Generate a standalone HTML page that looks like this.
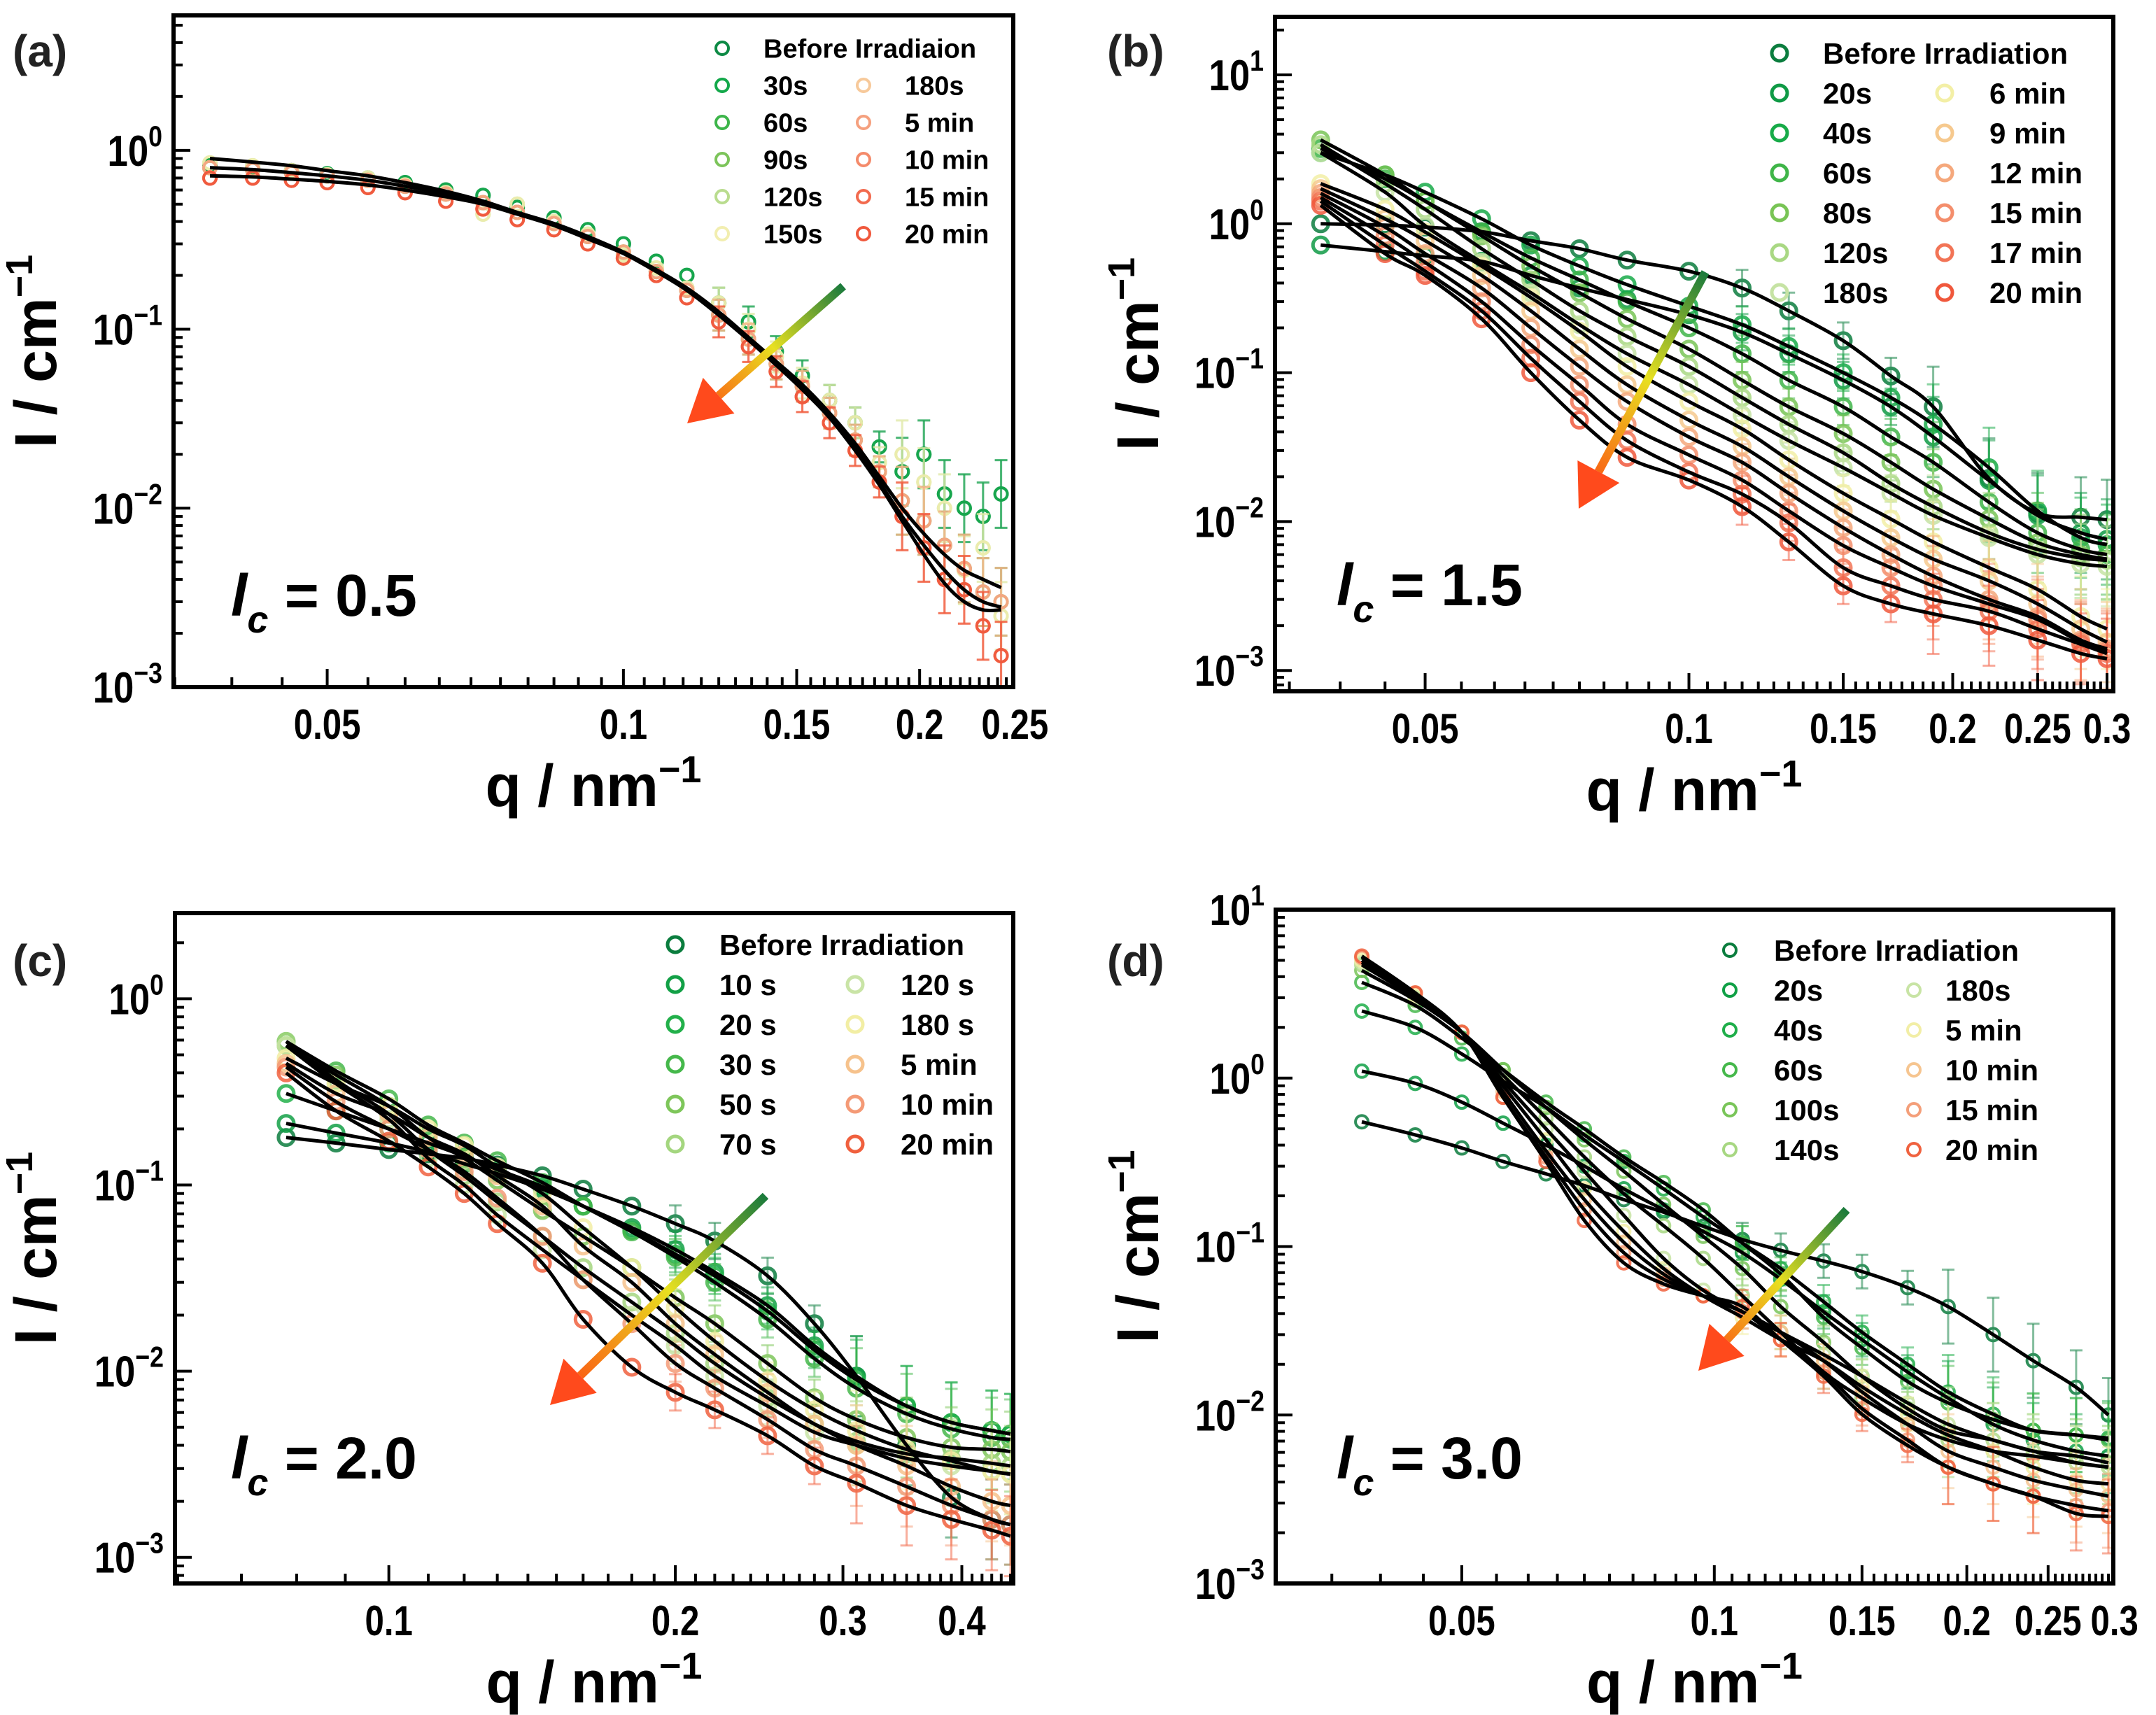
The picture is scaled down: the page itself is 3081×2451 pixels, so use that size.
<!DOCTYPE html>
<html><head><meta charset="utf-8"><style>
html,body{margin:0;padding:0;background:#fff;}
svg{display:block;font-family:"Liberation Sans",Arial,sans-serif;font-weight:bold;}
</style></head><body>
<svg id="fig" xmlns="http://www.w3.org/2000/svg" width="3081" height="2451" viewBox="0 0 3081 2451">
<defs>
<linearGradient id="arrA" gradientUnits="userSpaceOnUse" x1="1205" y1="409" x2="982" y2="605"><stop offset="0" stop-color="#1a7a3c"/><stop offset="0.45" stop-color="#e8e020"/><stop offset="1" stop-color="#ff3a10"/></linearGradient>
<linearGradient id="arrB" gradientUnits="userSpaceOnUse" x1="2437" y1="389" x2="2256" y2="727"><stop offset="0" stop-color="#1a7a3c"/><stop offset="0.45" stop-color="#e8e020"/><stop offset="1" stop-color="#ff3a10"/></linearGradient>
<linearGradient id="arrC" gradientUnits="userSpaceOnUse" x1="1094" y1="1709" x2="786" y2="2008"><stop offset="0" stop-color="#1a7a3c"/><stop offset="0.45" stop-color="#e8e020"/><stop offset="1" stop-color="#ff3a10"/></linearGradient>
<linearGradient id="arrD" gradientUnits="userSpaceOnUse" x1="2639" y1="1729" x2="2427" y2="1959"><stop offset="0" stop-color="#1a7a3c"/><stop offset="0.45" stop-color="#e8e020"/><stop offset="1" stop-color="#ff3a10"/></linearGradient>
</defs>
</svg>
<script>
// ---------- Panel (a) data ----------
const qA = [0.038,0.042,0.046,0.05,0.055,0.06,0.066,0.072,0.078,0.085,0.092,0.1,0.108,0.116,0.125,0.134,0.143,0.152,0.162,0.172,0.182,0.192,0.202,0.212,0.222,0.232,0.242];
const dataA_green = [0.82,0.8,0.77,0.74,0.7,0.66,0.6,0.56,0.48,0.42,0.36,0.3,0.24,0.2,0.14,0.11,0.075,0.055,0.04,0.03,0.022,0.016,0.02,0.012,0.01,0.009,0.012];
const dataA_base = [0.8,0.78,0.75,0.72,0.68,0.63,0.57,0.51,0.45,0.39,0.33,0.27,0.21,0.165,0.12,0.088,0.064,0.048,0.034,0.024,0.016,0.011,0.0085,0.0062,0.0046,0.0034,0.003];
const dataA_light = [0.85,0.82,0.77,0.73,0.7,0.64,0.58,0.44,0.5,0.4,0.34,0.26,0.22,0.17,0.14,0.1,0.07,0.05,0.04,0.03,0.018,0.02,0.014,0.01,0.0045,0.006,0.0025];
const dataA_red = [0.7,0.7,0.68,0.66,0.62,0.58,0.52,0.47,0.41,0.36,0.3,0.25,0.2,0.15,0.11,0.08,0.058,0.042,0.03,0.021,0.014,0.009,0.006,0.004,0.0035,0.0022,0.0015];
const fitA1 = [0.9,0.86,0.82,0.77,0.72,0.66,0.59,0.52,0.45,0.39,0.33,0.27,0.215,0.17,0.125,0.09,0.066,0.049,0.034,0.023,0.015,0.01,0.0072,0.0055,0.0045,0.004,0.0036];
const fitA2 = [0.72,0.71,0.69,0.67,0.64,0.6,0.55,0.5,0.44,0.38,0.32,0.265,0.21,0.165,0.12,0.087,0.063,0.046,0.032,0.021,0.0135,0.0085,0.0055,0.0038,0.003,0.0027,0.0027];
const fitA3 = [0.8,0.78,0.75,0.72,0.68,0.63,0.57,0.51,0.445,0.385,0.325,0.267,0.212,0.167,0.122,0.088,0.064,0.047,0.033,0.022,0.014,0.009,0.0062,0.0045,0.0035,0.003,0.0028];
const namesA = ["Before Irradiaion","30s","60s","90s","120s","150s","180s","5 min","10 min","15 min","20 min"];
const colorsA = ["#0d8a45","#13a84a","#3db54a","#7cc45a","#b9dc8e","#f2eeb0","#f7c99a","#f5a07e","#f48a6a","#f26a4e","#f0583c"];
const seriesA = [dataA_green,dataA_green,dataA_base,dataA_base,dataA_light,dataA_light,dataA_base,dataA_base,dataA_red,dataA_red,dataA_red];
const fitsA = [fitA1,fitA2,fitA3];

// ---------- Panel (b) data ----------
const qB = [0.038,0.045,0.05,0.058,0.066,0.075,0.085,0.1,0.115,0.13,0.15,0.17,0.19,0.22,0.25,0.28,0.3];
const namesB = ["Before Irradiation","20s","40s","60s","80s","120s","180s","6 min","9 min","12 min","15 min","17 min","20 min"];
const colorsB = ["#0b7d3e","#0f9a45","#17ab48","#3fb548","#78c455","#a9d883","#c6e3a4","#f3efa6","#f6c98e","#f5a87c","#f48e6c","#f27456","#f0583c"];
const b0 = [1.0,0.98,0.95,0.885,0.77,0.68,0.57,0.48,0.37,0.26,0.164,0.095,0.059,0.0195,0.0114,0.0107,0.0103];
const b1 = [0.72,0.65,0.61,0.56,0.45,0.37,0.31,0.245,0.187,0.134,0.089,0.059,0.037,0.0189,0.011,0.0084,0.0076];
const b2 = [3.0,2.13,1.63,1.08,0.72,0.52,0.39,0.28,0.21,0.15,0.10,0.068,0.045,0.023,0.0118,0.0078,0.007];
const b3 = [3.2,2.0,1.42,0.88,0.59,0.42,0.30,0.2,0.134,0.089,0.059,0.037,0.025,0.0135,0.0084,0.0065,0.006];
const b4 = [3.66,2.13,1.42,0.83,0.52,0.344,0.23,0.144,0.089,0.059,0.039,0.025,0.0165,0.0104,0.0072,0.006,0.0056];
const b5 = [3.4,1.86,1.25,0.68,0.42,0.26,0.175,0.11,0.068,0.045,0.029,0.018,0.0126,0.0084,0.0065,0.0057,0.0055];
const b6 = [3.0,1.63,0.97,0.55,0.344,0.21,0.134,0.083,0.052,0.035,0.023,0.0155,0.011,0.0078,0.006,0.0052,0.005];
const b7 = [1.86,1.25,0.88,0.52,0.32,0.19,0.11,0.064,0.042,0.026,0.0155,0.0104,0.0073,0.0049,0.0035,0.0023,0.0019];
const b8 = [1.72,1.08,0.77,0.45,0.26,0.144,0.083,0.048,0.032,0.02,0.0118,0.0078,0.0056,0.004,0.0028,0.0019,0.00155];
const b9 = [1.6,0.95,0.63,0.37,0.2,0.11,0.064,0.037,0.025,0.0155,0.0091,0.006,0.0043,0.003,0.0023,0.0016,0.0014];
const b10 = [1.5,0.83,0.55,0.3,0.154,0.083,0.045,0.028,0.019,0.0118,0.0069,0.0049,0.0037,0.0028,0.0022,0.00155,0.00135];
const b11 = [1.42,0.72,0.48,0.26,0.125,0.064,0.035,0.0215,0.0153,0.0098,0.0049,0.0037,0.003,0.0025,0.0019,0.0015,0.0013];
const b12 = [1.33,0.63,0.45,0.23,0.1,0.048,0.027,0.019,0.0126,0.0073,0.0037,0.0028,0.0024,0.002,0.0016,0.0013,0.0012];
const seriesB = [b0,b1,b2,b3,b4,b5,b6,b7,b8,b9,b10,b11,b12];

// ---------- Panel (c) data ----------
const qC = [0.078,0.088,0.1,0.11,0.12,0.13,0.145,0.16,0.18,0.2,0.22,0.25,0.28,0.31,0.35,0.39,0.43,0.45];
const namesC = ["Before Irradiation","10 s","20 s","30 s","50 s","70 s","120 s","180 s","5 min","10 min","20 min"];
const colorsC = ["#0b7d3e","#12a046","#22b04a","#45b84b","#7ec65a","#a4d67f","#c9e4a6","#f2eea4","#f6c28c","#f49a76","#f0603e"];
const c0 = [0.18,0.168,0.155,0.147,0.139,0.128,0.112,0.095,0.077,0.062,0.05,0.0325,0.018,0.0094,0.004,0.0021,0.0016,0.0015];
const c1 = [0.214,0.19,0.168,0.15,0.13,0.115,0.095,0.077,0.059,0.045,0.034,0.0225,0.0137,0.0094,0.0065,0.0053,0.0048,0.0046];
const c2 = [0.31,0.25,0.2,0.168,0.143,0.121,0.098,0.077,0.057,0.0425,0.0325,0.021,0.013,0.009,0.0065,0.0053,0.0048,0.0046];
const c3 = [0.59,0.41,0.29,0.21,0.168,0.135,0.103,0.077,0.056,0.041,0.03,0.019,0.0117,0.0081,0.0059,0.0049,0.0044,0.0043];
const c4 = [0.56,0.39,0.265,0.18,0.139,0.106,0.073,0.053,0.036,0.0248,0.018,0.011,0.0072,0.0055,0.0044,0.0039,0.0038,0.0037];
const c5 = [0.59,0.366,0.24,0.155,0.112,0.081,0.053,0.036,0.0235,0.016,0.011,0.0072,0.0052,0.0042,0.0036,0.0034,0.0032,0.0031];
const c6 = [0.56,0.35,0.225,0.139,0.1,0.069,0.045,0.031,0.02,0.0137,0.0094,0.0065,0.0047,0.004,0.0034,0.0031,0.0029,0.0028];
const c7 = [0.48,0.35,0.265,0.2,0.163,0.125,0.09,0.059,0.036,0.022,0.0145,0.0089,0.0062,0.0048,0.0038,0.0033,0.0029,0.0028];
const c8 = [0.45,0.31,0.24,0.18,0.147,0.112,0.077,0.047,0.03,0.018,0.0123,0.0077,0.0052,0.004,0.0031,0.0024,0.002,0.0019];
const c9 = [0.43,0.28,0.2,0.155,0.118,0.085,0.053,0.031,0.018,0.011,0.0081,0.0055,0.0038,0.0031,0.0024,0.0019,0.0016,0.0015];
const c10 = [0.4,0.25,0.172,0.125,0.09,0.062,0.038,0.019,0.0105,0.0077,0.0062,0.0045,0.0031,0.0025,0.0019,0.0016,0.0014,0.0013];
const seriesC = [c0,c1,c2,c3,c4,c5,c6,c7,c8,c9,c10];

// ---------- Panel (d) data ----------
const qD = [0.038,0.044,0.05,0.056,0.063,0.07,0.078,0.087,0.097,0.108,0.12,0.135,0.15,0.17,0.19,0.215,0.24,0.27,0.295];
const namesD = ["Before Irradiation","20s","40s","60s","100s","140s","180s","5 min","10 min","15 min","20 min"];
const colorsD = ["#0b7d3e","#10a046","#1fae4a","#45b84b","#79c559","#a7d782","#c8e4a5","#f2eea6","#f6c590","#f49f7a","#f0623f"];
const d0 = [0.55,0.46,0.385,0.32,0.27,0.23,0.19,0.16,0.132,0.11,0.095,0.082,0.071,0.057,0.044,0.03,0.021,0.0146,0.01];
const d1 = [1.1,0.93,0.72,0.54,0.4,0.3,0.22,0.165,0.123,0.092,0.064,0.041,0.028,0.018,0.0126,0.0088,0.0071,0.0061,0.0057];
const d2 = [2.5,2.0,1.39,0.96,0.67,0.46,0.32,0.22,0.15,0.105,0.074,0.047,0.031,0.02,0.0137,0.0101,0.0081,0.0076,0.0073];
const d3 = [3.7,2.7,1.73,1.12,0.72,0.5,0.34,0.24,0.165,0.105,0.0686,0.038,0.025,0.0158,0.0118,0.0094,0.0081,0.0076,0.0071];
const d4 = [4.35,2.9,1.87,1.12,0.67,0.43,0.28,0.178,0.115,0.074,0.044,0.027,0.017,0.0109,0.0081,0.0071,0.0061,0.0057,0.0052];
const d5 = [4.7,3.0,1.87,1.04,0.58,0.34,0.206,0.133,0.085,0.051,0.031,0.018,0.0126,0.0088,0.0071,0.0061,0.0057,0.0052,0.0049];
const d6 = [4.85,3.0,1.87,0.96,0.5,0.28,0.153,0.085,0.055,0.041,0.031,0.0228,0.017,0.0118,0.0088,0.0071,0.0061,0.0052,0.0049];
const d7 = [5.0,3.1,1.87,0.9,0.43,0.22,0.123,0.074,0.051,0.038,0.028,0.021,0.0147,0.0101,0.0076,0.0061,0.0049,0.0041,0.0039];
const d8 = [5.2,3.2,1.87,0.83,0.37,0.19,0.106,0.0686,0.051,0.041,0.031,0.021,0.0137,0.0088,0.0061,0.0049,0.0041,0.0036,0.0033];
const d9 = [5.2,3.2,1.87,0.77,0.34,0.165,0.092,0.064,0.051,0.041,0.028,0.018,0.0109,0.0071,0.0049,0.0039,0.0033,0.0029,0.0027];
const d10 = [5.3,3.2,1.87,0.77,0.32,0.143,0.08,0.06,0.051,0.044,0.028,0.017,0.0101,0.0066,0.0049,0.0039,0.0033,0.0026,0.0025];
const seriesD = [d0,d1,d2,d3,d4,d5,d6,d7,d8,d9,d10];

// tick label arrays
const xTicksA = [0.05,0.1,0.15,0.2,0.25];
const xTicksB = [0.05,0.1,0.15,0.2,0.25,0.3];
const xTicksC = [0.1,0.2,0.3,0.4];
const xTicksD = [0.05,0.1,0.15,0.2,0.25,0.3];
const yExpA = [0,-1,-2,-3];
const yExpB = [1,0,-1,-2,-3];
const yExpC = [0,-1,-2,-3];
const yExpD = [1,0,-1,-2,-3];

const NS = "http://www.w3.org/2000/svg";
const svg = document.getElementById('fig');
function mk(tag, attrs, parent){
  const e = document.createElementNS(NS, tag);
  for (const k in attrs) e.setAttribute(k, attrs[k]);
  (parent||svg).appendChild(e);
  return e;
}
function smoothPath(pts){
  if (pts.length < 2) return "";
  let d = "M" + pts[0][0].toFixed(1) + "," + pts[0][1].toFixed(1);
  for (let i=0;i<pts.length-1;i++){
    const p0 = pts[Math.max(0,i-1)], p1 = pts[i], p2 = pts[i+1], p3 = pts[Math.min(pts.length-1,i+2)];
    const c1x = p1[0]+(p2[0]-p0[0])/6, c1y = p1[1]+(p2[1]-p0[1])/6;
    const c2x = p2[0]-(p3[0]-p1[0])/6, c2y = p2[1]-(p3[1]-p1[1])/6;
    d += " C"+c1x.toFixed(1)+","+c1y.toFixed(1)+" "+c2x.toFixed(1)+","+c2y.toFixed(1)+" "+p2[0].toFixed(1)+","+p2[1].toFixed(1);
  }
  return d;
}

function panel(cfg){
  const g = mk('g', {});
  
  
  const L=cfg.box[0], T=cfg.box[1], R=cfg.box[2], B=cfg.box[3];
  const lx0=Math.log10(cfg.xlim[0]), lx1=Math.log10(cfg.xlim[1]);
  const ly0=cfg.ylim[0], ly1=cfg.ylim[1];
  const X = q => L + (Math.log10(q)-lx0)/(lx1-lx0)*(R-L);
  const Y = v => B - (Math.log10(v)-ly0)/(ly1-ly0)*(B-T);
  const clipId = 'clip-'+cfg.id;
  const cp = mk('clipPath', {id:clipId}, g);
  mk('rect', {x:L, y:T, width:R-L, height:B-T}, cp);
  const plot = mk('g', {'clip-path':'url(#'+clipId+')'}, g);
  
  

  cfg.series.forEach((vals, si) => {
    const sg = mk('g', {opacity: 0.85}, plot);
    
    
    vals.forEach((v, i) => {
      const q = cfg.q[i];
      const cx = X(q), cy = Y(v);
      if (q > cfg.errQ){
        const h = cfg.errLen * (q > cfg.errQ2 ? 2.2 : 1);
        mk('line', {x1:cx, y1:cy-h, x2:cx, y2:cy+h, stroke:cfg.colors[si], 'stroke-width':3, opacity:0.6}, sg);
        mk('line', {x1:cx-9, y1:cy-h, x2:cx+9, y2:cy-h, stroke:cfg.colors[si], 'stroke-width':3, opacity:0.6}, sg);
        mk('line', {x1:cx-9, y1:cy+h, x2:cx+9, y2:cy+h, stroke:cfg.colors[si], 'stroke-width':3, opacity:0.6}, sg);
      }
      const c = mk('circle', {cx:cx, cy:cy, r:cfg.mr, fill:'none', stroke:cfg.colors[si], 'stroke-width':cfg.msw}, sg);
      
      
    });
  });
  const fits = cfg.fits || cfg.series;
  fits.forEach((vals) => {
    const pts = vals.map((v,i)=>[X(cfg.q[i]), Y(v)]);
    const p = mk('path', {d:smoothPath(pts), fill:'none', stroke:'#000', 'stroke-width':5, 'stroke-linejoin':'round'}, plot);
    
    
  });

  const fr = mk('rect', {x:L, y:T, width:R-L, height:B-T, fill:'none', stroke:'#000', 'stroke-width':6}, g);
  
  

  const xt = mk('g', {stroke:'#000', 'stroke-width':4}, g);
  
  
  for (let k=1; k<200; k++){
    const q = k*cfg.minorStep;
    if (q <= cfg.xlim[0] || q >= cfg.xlim[1]) continue;
    const major = cfg.xticks.some(t=>Math.abs(t-q)<1e-9);
    const len = major ? 26 : 14;
    mk('line', {x1:X(q), y1:B, x2:X(q), y2:B-len}, xt);
  }
  cfg.xticks.forEach(t => {
    const tx = mk('text', {x:0, y:0, 'font-size':60, 'text-anchor':'middle', fill:'#000',
      transform:'translate('+X(t).toFixed(1)+','+(B+74)+') scale(0.82,1)'}, g);
    tx.textContent = String(t);
    
    
  });
  const yt = mk('g', {stroke:'#000', 'stroke-width':4}, g);
  
  
  for (let e=-4; e<=2; e++){
    for (let m=1; m<=9; m++){
      const v = m*Math.pow(10,e);
      const lv = Math.log10(v);
      if (lv < ly0-1e-9 || lv > ly1+1e-9) continue;
      const len = m===1 ? 24 : 13;
      mk('line', {x1:L, y1:Y(v), x2:L+len, y2:Y(v)}, yt);
    }
  }
  cfg.yexp.forEach(e => {
    const v = Math.pow(10,e);
    const t = mk('text', {x:0, y:0, 'font-size':62, 'text-anchor':'end', fill:'#000',
      transform:'translate('+(L-16)+','+(Y(v)+22).toFixed(1)+') scale(0.85,1)'}, g);
    
    
    const t1 = mk('tspan', {}, t); t1.textContent = '10';
    const t2 = mk('tspan', {dy:-28, 'font-size':42}, t); t2.textContent = (e<0 ? '\u2212' : '') + Math.abs(e);
  });
  const xtitle = mk('text', {x:(L+R)/2, y:B+170, 'font-size':84, 'text-anchor':'middle', fill:'#000'}, g);
  
  
  const xa = mk('tspan', {}, xtitle); xa.textContent = 'q / nm';
  const xb = mk('tspan', {dy:-34, 'font-size':54}, xtitle); xb.textContent = '\u22121';
  const ycx = cfg.ytitleX, ycy = (T+B)/2;
  const ytitle = mk('text', {x:ycx, y:ycy, 'font-size':84, 'text-anchor':'middle', fill:'#000', transform:'rotate(-90 '+ycx+' '+ycy+')'}, g);
  
  
  const ya = mk('tspan', {}, ytitle); ya.textContent = 'I / cm';
  const yb = mk('tspan', {dy:-34, 'font-size':54}, ytitle); yb.textContent = '\u22121';

  const pl = mk('text', {x:cfg.labelPos[0], y:cfg.labelPos[1], 'font-size':64, fill:'#222'}, g);
  pl.textContent = '(' + cfg.id + ')';
  
  

  const lc = mk('text', {x:cfg.lcPos[0], y:cfg.lcPos[1], 'font-size':84, fill:'#000'}, g);
  
  
  const l1 = mk('tspan', {'font-style':'italic'}, lc); l1.textContent = 'l';
  const l2 = mk('tspan', {'font-style':'italic', 'font-size':54, dy:24}, lc); l2.textContent = 'c';
  const l3 = mk('tspan', {dy:-24}, lc); l3.textContent = ' = ' + cfg.lc;

  const lg = mk('g', {}, g);
  
  
  cfg.names.forEach((n, i) => {
    let col, row;
    if (i === 0){ col = 0; row = 0; }
    else { const k = i-1; col = k < cfg.col1 ? 0 : 1; row = 1 + (col===0 ? k : k-cfg.col1); }
    const mx = cfg.leg.mx[col], tx = cfg.leg.tx[col], yy = cfg.leg.y0 + row*cfg.leg.dy;
    const e = mk('g', {}, lg);
    
    
    mk('circle', {cx:mx, cy:yy, r:cfg.mr, fill:'none', stroke:cfg.colors[i], 'stroke-width':cfg.msw}, e);
    const t = mk('text', {x:tx, y:yy+cfg.leg.fs*0.36, 'font-size':cfg.leg.fs, fill:'#000'}, e);
    t.textContent = n;
  });

  const a = cfg.arrow;
  const ag = mk('g', {}, g);
  
  
  const dx = a[2]-a[0], dy = a[3]-a[1], len = Math.hypot(dx,dy), ux = dx/len, uy = dy/len;
  const bx = a[2]-ux*60, by = a[3]-uy*60;
  mk('line', {x1:a[0], y1:a[1], x2:bx, y2:by, stroke:'url(#'+a[4]+')', 'stroke-width':12}, ag);
  mk('polygon', {points: a[2]+','+a[3]+' '+(bx-uy*34)+','+(by+ux*34)+' '+(bx+uy*34)+','+(by-ux*34), fill:'#ff4a1c'}, ag);
}

panel({id:'a', box:[248,22,1448,982], xlim:[0.0349,0.249], ylim:[-3,0.754],
  q:qA, series:seriesA, fits:fitsA, names:namesA, colors:colorsA, mr:9, msw:4,
  errQ:0.12, errQ2:0.19, errLen:22, minorStep:0.005, xticks:xTicksA, yexp:yExpA,
  ytitleX:80, labelPos:[18,95], lcPos:[330,880], lc:'0.5',
  col1:5, leg:{mx:[1032,1234], tx:[1091,1293], y0:69, dy:53, fs:38}, arrow:[1205,409,982,605,'arrA']});
panel({id:'b', box:[1822,24,3020,988], xlim:[0.0337,0.305], ylim:[-3.14,1.39],
  q:qB, series:seriesB, names:namesB, colors:colorsB, mr:11, msw:5,
  errQ:0.1, errQ2:0.17, errLen:26, minorStep:0.005, xticks:xTicksB, yexp:yExpB,
  ytitleX:1655, labelPos:[1582,95], lcPos:[1910,865], lc:'1.5',
  col1:6, leg:{mx:[2543,2779], tx:[2605,2843], y0:76, dy:57, fs:42}, arrow:[2437,389,2256,727,'arrB']});
panel({id:'c', box:[250,1305,1448,2263], xlim:[0.0596,0.453], ylim:[-3.14,0.46],
  q:qC, series:seriesC, names:namesC, colors:colorsC, mr:11, msw:5,
  errQ:0.18, errQ2:0.28, errLen:26, minorStep:0.01, xticks:xTicksC, yexp:yExpC,
  ytitleX:80, labelPos:[18,1395], lcPos:[330,2113], lc:'2.0',
  col1:5, leg:{mx:[965,1222], tx:[1028,1287], y0:1350, dy:57, fs:42}, arrow:[1094,1709,786,2008,'arrC']});
panel({id:'d', box:[1823,1300,3020,2263], xlim:[0.030,0.299], ylim:[-3,1],
  q:qD, series:seriesD, names:namesD, colors:colorsD, mr:9, msw:4,
  errQ:0.1, errQ2:0.17, errLen:24, minorStep:0.005, xticks:xTicksD, yexp:yExpD,
  ytitleX:1655, labelPos:[1582,1395], lcPos:[1910,2113], lc:'3.0',
  col1:5, leg:{mx:[2472,2735], tx:[2535,2780], y0:1358, dy:57, fs:42}, arrow:[2639,1729,2427,1959,'arrD']});
</script>
</body></html>
